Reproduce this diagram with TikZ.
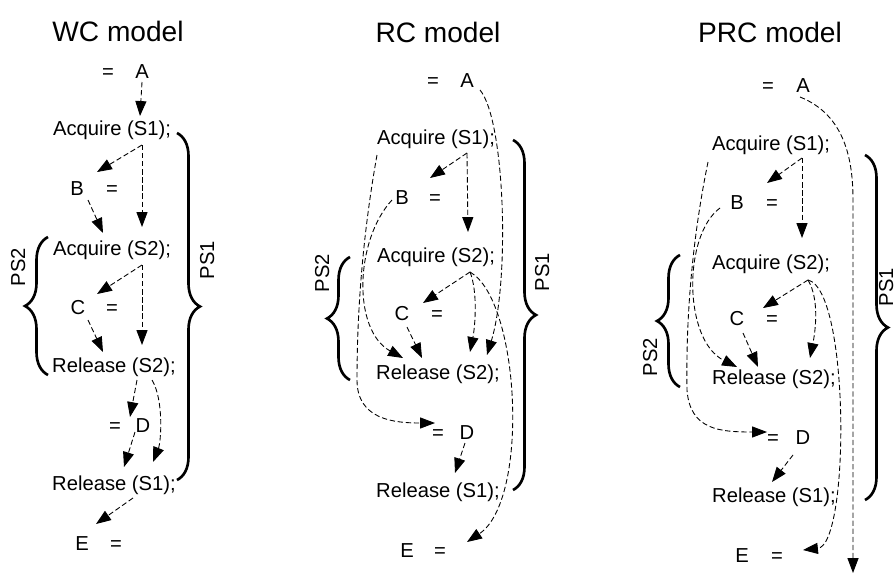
\documentclass[tikz,border=0pt]{standalone}
\usepackage{fontspec}
\setmainfont{Liberation Sans}
\usetikzlibrary{arrows.meta,calc,decorations.pathreplacing}

\begin{document}
\begin{tikzpicture}[x=0.02cm, y=-0.02cm,
    txt/.style={font=\fontsize{11.5}{13}\selectfont, inner sep=0pt, text height=8.2pt, text depth=0pt},
    ttl/.style={font=\fontsize{16}{19}\selectfont, inner sep=0pt, text height=11.4pt, text depth=0pt},
    dep/.style={line width=0.5pt, dash pattern=on 3pt off 1.6pt, -{Triangle[length=8.5pt,width=6.3pt]}},
    brc/.style={line width=1.5pt, decorate, decoration={brace, amplitude=0.46cm}}]
    \useasboundingbox (0,0) rectangle (896,575);
    % one unit = one pixel of the sheet, y grows downward
    \foreach \n/\x/\y/\lbl in {wtl/118/31/WC model,rtl/438/32/RC model,ptl/770/32/PRC model} {
      \node[ttl] (\n) at (\x,\y) {\lbl};
    }
    \foreach \n/\x/\y/\lbl in {
      weqA/108/71/=, wA/142/71/A, wacqa/112/128/Acquire (S1);,
      wB/77/188/B, weqB/112/188/=, wacqb/112/248/Acquire (S2);,
      wC/78/307/C, weqC/112/307/=, wrelb/114/365/Release (S2);,
      weqD/115/425/=, wD/143/425/D, wrela/114/483/Release (S1);,
      wE/82/543/E, weqE/116/543/=,
      reqA/433/80/=, rA/467/80/A, racqa/436/137/Acquire (S1);,
      rB/402/197/B, reqB/435/197/=, racqb/436/255/Acquire (S2);,
      rC/402/313/C, reqC/437/313/=, rrelb/438/372/Release (S2);,
      reqD/438/432/=, rD/467/432/D, rrela/438/490/Release (S1);,
      rE/407/550/E, reqE/440/550/=,
      peqA/768/85/=, pA/803/85/A, pacqa/771/143/Acquire (S1);,
      pB/737/202/B, peqB/772/202/=, pacqb/771/262/Acquire (S2);,
      pC/737/318/C, peqC/772/318/=, prelb/774/377/Release (S2);,
      peqD/773/437/=, pD/803/437/D, prela/774/495/Release (S1);,
      pE/742/555/E, peqE/777/555/=} {
      \node[txt] (\n) at (\x,\y) {\lbl};
    }
    \foreach \n/\x/\y/\lbl in {wps1/207/260/PS1,wps2/18/267/PS2,rps1/542/272/PS1,
      rps2/322/273/PS2,pps1/886/287/PS1,pps2/650/357/PS2} {
      \node[txt, rotate=90] (\n) at (\x,\y) {\lbl};
    }
    \draw[brc] (177,133) -- (177,480);
    \draw[brc] (48,375) -- (48,237);
    \draw[brc] (513,140) -- (513,490);
    \draw[brc] (350,380) -- (350,257);
    \draw[brc] (865,155) -- (865,500);
    \draw[brc] (680,387) -- (680,255);

    \draw[dep] ($(wA)+(0,11)$) -- ($(wacqa)+(28,-12)$);
    \draw[dep] ($(wacqa)+(30,17)$) -- ($(wB)+(20,-16)$);
    \draw[dep] ($(wacqa)+(30,17)$) -- ($(wacqb)+(30,-21)$);
    \draw[dep] ($(wB)+(11,12)$) -- ($(wacqb)+(-9,-15)$);
    \draw[dep] ($(wacqb)+(30,17)$) -- ($(wC)+(19,-13)$);
    \draw[dep] ($(wacqb)+(30,17)$) -- ($(wrelb)+(28,-20)$);
    \draw[dep] ($(wC)+(10,13)$) -- ($(wrelb)+(-11,-13)$);
    \draw[dep] ($(wrelb)+(23,15)$) -- ($(wD)+(-13,-8)$);
    \draw[dep] ($(wrelb)+(38,15)$) .. controls +(12,20) and +(8,-20) .. ($(wrela)+(39,-21)$);
    \draw[dep] ($(wD)+(-8,7)$) -- ($(wrela)+(10,-16)$);
    \draw[dep] ($(wrela)+(19,15)$) -- ($(wE)+(14,-19)$);

    \draw[dep] ($(rA)+(13,10)$) .. controls +(25,30) and +(23,-75) .. ($(rrelb)+(49,-17)$);
    \draw[dep] ($(racqa)+(31,16)$) -- ($(rB)+(28,-19)$);
    \draw[dep] ($(racqa)+(31,16)$) -- ($(racqb)+(32,-23)$);
    \draw[dep] ($(racqa)+(-59,18)$) .. controls +(-17,95) and +(0,-50) .. ($(rrelb)+(-81,8)$)
      .. controls +(0,40) and +(-40,0) .. ($(reqD)+(-3,-9)$);
    \draw[dep] ($(rB)+(-10,3)$) .. controls +(-37,40) and +(-51,-28) .. ($(rrelb)+(-35,-14)$);
    \draw[dep] ($(racqb)+(34,17)$) -- ($(rC)+(21,-10)$);
    \draw[dep] ($(racqb)+(34,17)$) .. controls +(8,20) and +(5,-25) .. ($(rrelb)+(32,-20)$);
    \draw[dep] ($(racqb)+(34,17)$) .. controls +(50,28) and +(63,-42) .. ($(reqE)+(27,-8)$);
    \draw[dep] ($(rC)+(5,14)$) -- ($(rrelb)+(-16,-14)$);
    \draw[dep] ($(rD)+(-2,11)$) -- ($(rrela)+(17,-17)$);

    \coordinate (pend) at (853,573);
    \draw[dep] ($(pA)+(-3,12)$) .. controls +(45,18) and +(0,-40) .. ($(pA)+(50,115)$) -- (pend);
    \draw[dep] ($(pacqa)+(31,15)$) -- ($(pB)+(30,-19)$);
    \draw[dep] ($(pacqa)+(31,15)$) -- ($(pacqb)+(31,-24)$);
    \draw[dep] ($(pacqa)+(-63,19)$) .. controls +(-18,88) and +(-1,-60) .. ($(prelb)+(-87,13)$)
      .. controls +(3,40) and +(-47,0) .. ($(peqD)+(-6,-5)$);
    \draw[dep] ($(pB)+(-17,6)$) .. controls +(-37,27) and +(-54,-27) .. ($(prelb)+(-37,-10)$);
    \draw[dep] ($(pacqb)+(37,18)$) -- ($(pC)+(26,-10)$);
    \draw[dep] ($(pacqb)+(37,18)$) .. controls +(12,20) and +(5,-25) .. ($(prelb)+(36,-19)$);
    \draw[dep] ($(pacqb)+(37,18)$) .. controls +(42,10) and +(47,-5) .. ($(peqE)+(26,-5)$);
    \draw[dep] ($(pC)+(6,15)$) -- ($(prelb)+(-16,-10)$);
    \draw[dep] ($(pD)+(-10,18)$) -- ($(prela)+(-2,-13)$);
\end{tikzpicture}
\end{document}
